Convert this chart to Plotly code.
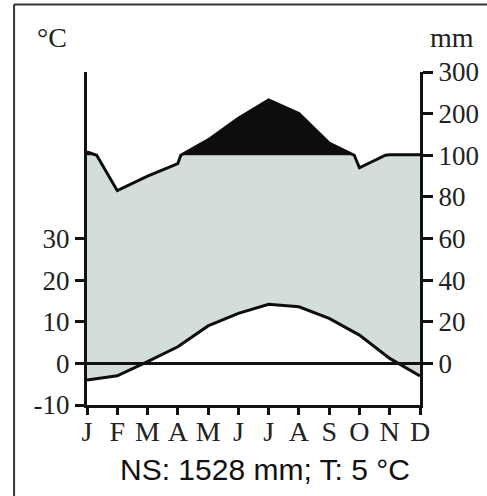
import plotly.graph_objects as go

months = ['J', 'F', 'M', 'A', 'M', 'J', 'J', 'A', 'S', 'O', 'N', 'D']
temperature = [-4.0, -3.0, 0.4, 4.0, 9.0, 12.0, 14.2, 13.6, 10.8, 6.8, 1.2, -3.0]  # °C
precipitation = [108, 83, 90, 96, 137, 189, 233, 200, 129, 94, 101, 101]  # mm
temp_ticks = [-10, 0, 10, 20, 30]
mm_ticks = [0, 20, 40, 60, 80, 100, 200, 300]
title_text = 'NS: 1528 mm; T: 5 °C'

x = list(range(len(months)))


def scale_mm(p):
    # Walter-Lieth: above 100 mm the scale is compressed
    return p if p <= 100 else 100 + (p - 100) / 5.0


# precipitation path with the break points at 100 mm
px, py = [], []
for i in range(len(x)):
    px.append(x[i]); py.append(scale_mm(precipitation[i]))
    if i < len(x) - 1:
        a, b = precipitation[i], precipitation[i + 1]
        if (a - 100) * (b - 100) < 0:
            t = (100 - a) / (b - a)
            px.append(x[i] + t); py.append(100)

fig = go.Figure()

# humid (grey) area between temperature and precipitation (capped at 100), on the °C axis (2 mm = 1 °C)
fig.add_trace(go.Scatter(
    x=px + x[::-1], y=[min(v, 100) / 2 for v in py] + temperature[::-1],
    yaxis='y', fill='toself', fillcolor='#d3dedc', mode='none',
    hoverinfo='skip', showlegend=False))

# temperature line
fig.add_trace(go.Scatter(
    x=x, y=temperature, yaxis='y', mode='lines',
    line=dict(color='#0d0d0d', width=3), showlegend=False))

# perhumid (black) area above 100 mm
fig.add_trace(go.Scatter(
    x=px + px[::-1], y=[max(v, 100) for v in py] + [100] * len(px),
    yaxis='y2', fill='toself', fillcolor='#0d0d0d', mode='none',
    hoverinfo='skip', showlegend=False))

# precipitation line
fig.add_trace(go.Scatter(
    x=px, y=py, yaxis='y2', mode='lines',
    line=dict(color='#0d0d0d', width=3), showlegend=False))

serif_y = dict(family='Liberation Serif', size=27, color='#222222')
serif_x = dict(family='Liberation Serif', size=28, color='#222222')
serif_lbl = dict(family='Liberation Serif', size=28, color='#222222')

frame = dict(color='#333333', width=2)

fig.update_layout(
    width=487, height=496,
    margin=dict(l=87, r=67, t=72, b=91, autoexpand=False),
    paper_bgcolor='white', plot_bgcolor='white',
    showlegend=False,
    xaxis=dict(range=[0, 11], tickvals=x, ticktext=months, automargin=False,
               showline=True, linewidth=3, linecolor='#111111',
               ticks='outside', ticklen=7, tickwidth=3, tickcolor='#111111',
               ticklabelstandoff=-8,
               showgrid=False, zeroline=False, tickfont=serif_x, fixedrange=True),
    yaxis=dict(range=[-10, 70], tickvals=temp_ticks, ticktext=[str(v) for v in temp_ticks],
               automargin=False,
               showline=True, linewidth=3, linecolor='#111111',
               ticks='outside', ticklen=9, tickwidth=3, tickcolor='#111111',
               showgrid=False, zeroline=False, tickfont=serif_y),
    yaxis2=dict(range=[-20, 140], overlaying='y', side='right',
                tickvals=[scale_mm(v) for v in mm_ticks], ticktext=[str(v) for v in mm_ticks],
                automargin=False,
                showline=True, linewidth=3, linecolor='#111111',
                ticks='outside', ticklen=10, tickwidth=3, tickcolor='#111111',
                showgrid=False, zeroline=False, tickfont=serif_y),
    shapes=[
        dict(type='line', xref='x', yref='y', x0=0, x1=11, y0=0, y1=0,
             line=dict(color='#111111', width=3), layer='above'),
        # outer frame (left and top edges; right/bottom lie outside the picture)
        dict(type='line', xref='paper', yref='paper', x0=-0.219, x1=-0.219, y0=-0.28, y1=1.203,
             line=frame, layer='above'),
        dict(type='line', xref='paper', yref='paper', x0=-0.219, x1=1.21, y0=1.203, y1=1.203,
             line=frame, layer='above'),
    ],
    annotations=[
        dict(text='°C', xref='paper', yref='paper', x=-0.105, y=1.104,
             showarrow=False, font=serif_lbl, xanchor='center', yanchor='middle'),
        dict(text='mm', xref='paper', yref='paper', x=1.095, y=1.104,
             showarrow=False, font=serif_lbl, xanchor='center', yanchor='middle'),
        dict(text=title_text, xref='paper', yref='paper', x=0.534, y=-0.195,
             showarrow=False, font=dict(family='Liberation Sans', size=30, color='#111111'),
             xanchor='center', yanchor='middle'),
    ],
)

fig.write_html('out.html', config={'displayModeBar': False},
               post_script="document.body.style.margin='0';document.body.style.overflow='hidden';")
